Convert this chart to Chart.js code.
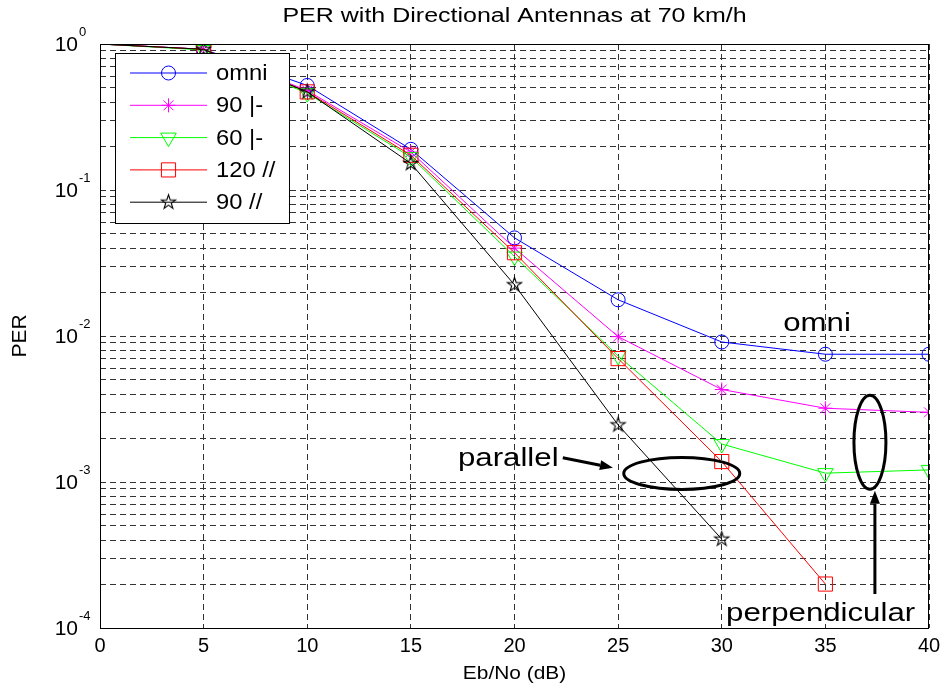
<!DOCTYPE html>
<html>
<head>
<meta charset="utf-8">
<script src="https://cdn.jsdelivr.net/npm/chart.js@4.4.1/dist/chart.umd.min.js"></script>
<style>
html,body{margin:0;padding:0;background:#fff;}
#chart{display:block;}
</style>
</head>
<body>
<canvas id="chart" width="947" height="693"></canvas>
<script>
// Eb/No values (dB)
const ebno = [0, 5, 10, 15, 20, 25, 30, 35, 40];

// PER per antenna configuration
const perOmni  = [1, 0.92, 0.52, 0.19,  0.047,  0.0177, 0.0091,   0.0075,  0.0075];
const per90Perp = [1, 0.92, 0.48, 0.182, 0.040,  0.0099, 0.0043,   0.0032,  0.0030];
const per60Perp = [1, 0.91, 0.46, 0.168, 0.0350, 0.0073, 0.00182,  0.00115, 0.00121];
const per120Par = [1, 0.92, 0.47, 0.173, 0.0372, 0.0070, 0.00138,  0.0002,  null];
const per90Par  = [1, 0.92, 0.47, 0.152, 0.0224, 0.00246, 0.000406, null,   null];

const seriesNames = ['omni', '90 |-', '60 |-', '120 //', '90 //'];

const xTicks = [0, 5, 10, 15, 20, 25, 30, 35, 40];
const yDecadeExps = [-4, -3, -2, -1, 0];
const yMinorSteps = [1, 2, 3, 4, 5, 6, 7, 8, 9];

// all log grid positions
const yTicks = [];
yDecadeExps.forEach(e => {
    if (e === 0) { yTicks.push(1); return; }
    yMinorSteps.forEach(m => yTicks.push(+(m * Math.pow(10, e)).toPrecision(6)));
});

// pentagram marker (no built-in one in Chart.js)
function makePentagram(r, color) {
    const c = document.createElement('canvas');
    const s = Math.ceil(r * 2 + 4);
    c.width = s; c.height = s;
    const g = c.getContext('2d');
    g.strokeStyle = color;
    g.lineWidth = 1.1;
    g.beginPath();
    for (let i = 0; i < 10; i++) {
        const rr = i % 2 === 0 ? r : r * 0.39;
        const a = -Math.PI / 2 + i * Math.PI / 5;
        const px = s / 2 + rr * Math.cos(a), py = s / 2 + rr * Math.sin(a);
        if (i === 0) g.moveTo(px, py); else g.lineTo(px, py);
    }
    g.closePath();
    g.stroke();
    return c;
}
const pentagram = makePentagram(7.5, '#000000');

const styles = [
    {color: '#0000FF', pointStyle: 'circle',   radius: 7,  rotation: 0},
    {color: '#FF00FF', pointStyle: 'star',     radius: 7,  rotation: 0},
    {color: '#00FF00', pointStyle: 'triangle', radius: 9,  rotation: 180},
    {color: '#FF0000', pointStyle: 'rect',     radius: 10, rotation: 0},
    {color: '#000000', pointStyle: pentagram,  radius: 7,  rotation: 0}
];
const seriesData = [perOmni, per90Perp, per60Perp, per120Par, per90Par];

const datasets = seriesData.map((vals, i) => ({
    label: seriesNames[i],
    data: ebno.map((x, j) => ({x: x, y: vals[j]})).filter(p => p.y !== null),
    borderColor: styles[i].color,
    backgroundColor: styles[i].color,
    borderWidth: 1,
    fill: false,
    tension: 0,
    pointStyle: styles[i].pointStyle,
    pointRotation: styles[i].rotation,
    pointRadius: ctx => ctx.dataIndex === 0 ? 0 : styles[i].radius,
    pointBorderColor: styles[i].color,
    pointBackgroundColor: 'rgba(0,0,0,0)',
    pointBorderWidth: 1,
    order: seriesData.length - 1 - i
}));

// text stretched horizontally (the original fonts are wide)
function wideText(ctx, text, x, y, sx, align) {
    ctx.save();
    ctx.translate(x, y);
    ctx.scale(sx, 1);
    ctx.textAlign = align || 'left';
    ctx.fillText(text, 0, 0);
    ctx.restore();
}

function ellipse(ctx, cx, cy, rx, ry) {
    ctx.beginPath();
    ctx.ellipse(cx, cy, rx, ry, 0, 0, Math.PI * 2);
    ctx.stroke();
}

function arrow(ctx, x1, y1, x2, y2) {
    const a = Math.atan2(y2 - y1, x2 - x1);
    const hl = 13, hw = 5;
    const bx = x2 - hl * Math.cos(a), by = y2 - hl * Math.sin(a);
    ctx.beginPath();
    ctx.moveTo(x1, y1);
    ctx.lineTo(bx, by);
    ctx.stroke();
    ctx.beginPath();
    ctx.moveTo(x2, y2);
    ctx.lineTo(bx + hw * Math.sin(a), by - hw * Math.cos(a));
    ctx.lineTo(bx - hw * Math.sin(a), by + hw * Math.cos(a));
    ctx.closePath();
    ctx.fill();
}

const FONT = '"Liberation Sans", Arial, Helvetica, sans-serif';

const decor = {
    id: 'decor',
    beforeDraw(chart) {
        const ctx = chart.ctx;
        ctx.save();
        ctx.fillStyle = '#fff';
        ctx.fillRect(0, 0, chart.width, chart.height);
        ctx.restore();
    },
    afterDraw(chart) {
        const ctx = chart.ctx;
        const a = chart.chartArea;
        const xs = chart.scales.x, ys = chart.scales.y;
        const X = v => xs.getPixelForValue(v), Y = v => ys.getPixelForValue(v);
        ctx.save();

        // axes box
        ctx.strokeStyle = '#000';
        ctx.lineWidth = 1;
        ctx.strokeRect(a.left + 0.5, a.top + 0.5, a.right - a.left - 1, a.bottom - a.top);

        // y tick labels 10^n
        ctx.fillStyle = '#000';
        ctx.textBaseline = 'middle';
        yDecadeExps.forEach(e => {
            const py = Y(Math.pow(10, e));
            ctx.font = '21px ' + FONT;
            ctx.textAlign = 'right';
            ctx.fillText('10', 78, py + 1);
            ctx.font = '13px ' + FONT;
            ctx.textAlign = 'left';
            ctx.fillText(String(e), 79, py - 12);
        });

        // title and axis labels
        ctx.textBaseline = 'alphabetic';
        ctx.font = '20px ' + FONT;
        wideText(ctx, 'PER with Directional Antennas at 70 km/h', (a.left + a.right) / 2, 22, 1.25, 'center');
        ctx.font = '19px ' + FONT;
        wideText(ctx, 'Eb/No (dB)', (a.left + a.right) / 2, 679, 1.1, 'center');
        ctx.save();
        ctx.translate(26, (a.top + a.bottom) / 2);
        ctx.rotate(-Math.PI / 2);
        ctx.font = '21px ' + FONT;
        ctx.textAlign = 'center';
        ctx.fillText('PER', 0, 0);
        ctx.restore();

        // annotations
        ctx.font = '26px ' + FONT;
        wideText(ctx, 'omni', X(34.6), Y(0.0109), 1.2, 'center');
        wideText(ctx, 'parallel', X(19.7), Y(0.00129), 1.2, 'center');
        wideText(ctx, 'perpendicular', X(34.77), Y(1.12e-4), 1.2, 'center');
        ctx.lineWidth = 3;
        ctx.strokeStyle = '#000';
        ellipse(ctx, X(28.07), Y(1.145e-3), 58, 16);
        ellipse(ctx, X(37.15), Y(1.87e-3), 16, 47);
        arrow(ctx, X(22.33), Y(1.466e-3), X(24.75), Y(1.253e-3));
        arrow(ctx, X(37.39), Y(1.71e-4), X(37.39), Y(8.7e-4));

        // legend
        const lx = a.left + 15, ly = a.top + 9, lw = 174, lh = 170;
        ctx.fillStyle = '#fff';
        ctx.fillRect(lx, ly, lw, lh);
        ctx.lineWidth = 1;
        ctx.strokeStyle = '#000';
        ctx.strokeRect(lx + 0.5, ly + 0.5, lw, lh);
        ctx.font = '22px ' + FONT;
        ctx.textBaseline = 'middle';
        seriesNames.forEach((name, i) => {
            const ey = ly + 20 + i * 32.3;
            const st = styles[i];
            ctx.strokeStyle = st.color;
            ctx.lineWidth = 1;
            ctx.beginPath();
            ctx.moveTo(lx + 15, ey);
            ctx.lineTo(lx + 92, ey);
            ctx.stroke();
            ctx.fillStyle = 'rgba(0,0,0,0)';
            Chart.helpers.drawPoint(ctx, {
                pointStyle: st.pointStyle, rotation: st.rotation,
                radius: st.radius, borderWidth: 1
            }, lx + 53.5, ey);
            ctx.fillStyle = '#000';
            wideText(ctx, name, lx + 101, ey + 1, 1.08, 'left');
        });
        ctx.restore();
    }
};

new Chart(document.getElementById('chart'), {
    type: 'line',
    data: {datasets: datasets},
    plugins: [decor],
    options: {
        responsive: false,
        animation: false,
        devicePixelRatio: 1,
        layout: {padding: {top: 44, right: 18, left: 0, bottom: 0}},
        plugins: {legend: {display: false}, tooltip: {enabled: false}, title: {display: false}},
        scales: {
            x: {
                type: 'linear',
                min: 0, max: 40,
                afterBuildTicks: s => { s.ticks = xTicks.map(v => ({value: v})); },
                afterFit: s => { s.height = 65; },
                ticks: {
                    font: {family: FONT, size: 20},
                    color: '#000',
                    padding: 6,
                    maxRotation: 0,
                    autoSkip: false
                },
                grid: {color: '#333', lineWidth: 1, drawTicks: false},
                border: {display: false, dash: [6, 4]}
            },
            y: {
                type: 'logarithmic',
                min: 1e-4, max: 1,
                afterBuildTicks: s => { s.ticks = yTicks.map(v => ({value: v})); },
                afterFit: s => { s.width = 100; },
                ticks: {display: false, autoSkip: false},
                grid: {color: '#333', lineWidth: 1, drawTicks: false},
                border: {display: false, dash: [6, 4]}
            }
        }
    }
});
</script>
</body>
</html>
